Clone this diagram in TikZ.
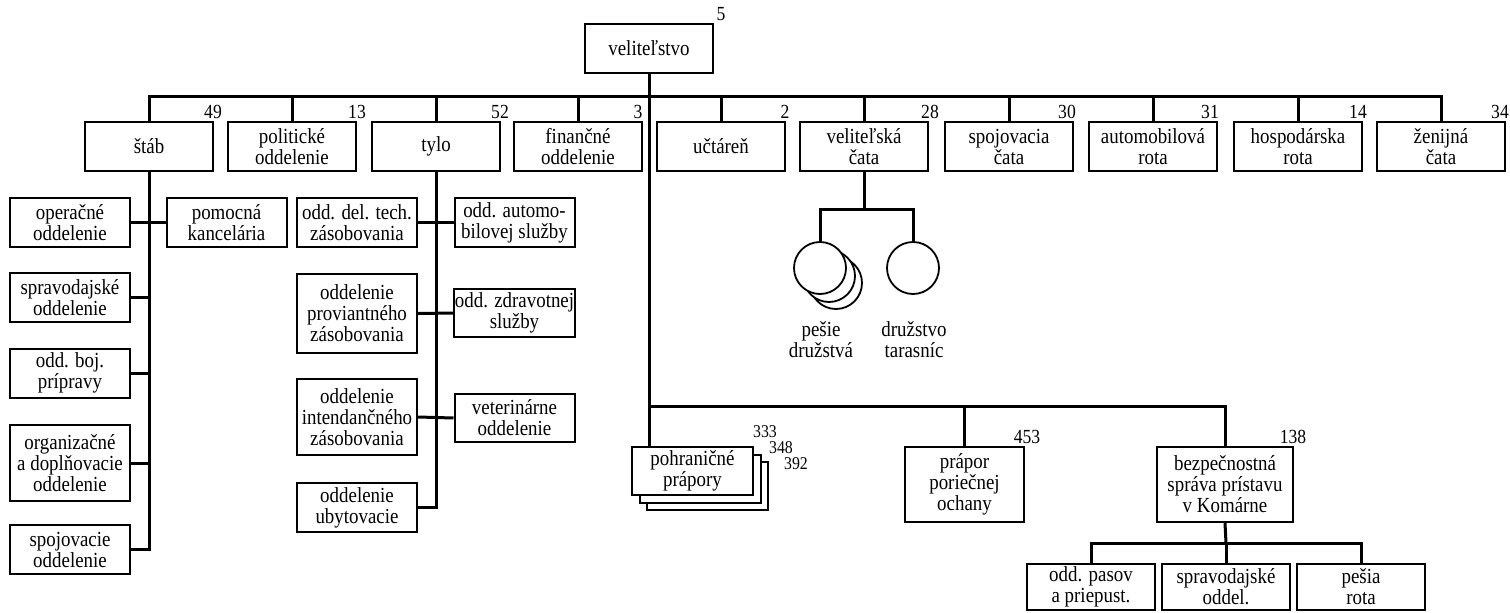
\documentclass[tikz,border=0pt]{standalone}
\usepackage{fontspec}
\setmainfont{Liberation Serif}[FakeStretch=0.88]
\newcommand{\dfont}{\fontsize{21.5}{21}\selectfont}
\newcommand{\nfont}{\fontsize{20}{21}\selectfont}
\newcommand{\sfontn}{\fontsize{18}{18}\selectfont}
\begin{document}
\begin{tikzpicture}[x=1pt,y=-1pt,
  box/.style={draw,line width=2pt,align=center,inner sep=1pt,minimum width=128pt,minimum height=49pt,fill=white,font=\dfont},
  sbox/.style={box,minimum width=120pt},
  conn/.style={line width=3pt},
  num/.style={anchor=base,inner sep=0pt,font=\nfont},
  snum/.style={num,font=\sfontn},
  circ/.style={draw,circle,line width=1.8pt,minimum size=52pt,inner sep=0pt,fill=white},
  lbl/.style={align=center,inner sep=0pt,font=\dfont}]
\useasboundingbox (0,0) rectangle (1510,613);
\fill[white] (0,0) rectangle (1510,613);

% top
\node[box] (vel) at (649,48.5) {veliteľstvo};
\node[box] (stab) at (149,146.5) {štáb};
\node[box] (pol) at (292,146.5) {politické\\oddelenie};
\node[box] (tylo) at (436,146.5) {tylo};
\node[box] (fin) at (578,146.5) {finančné\\oddelenie};
\node[box] (ucta) at (721,146.5) {učtáreň};
\node[box] (velc) at (864,146.5) {veliteľská\\čata};
\node[box] (spc) at (1009,146.5) {spojovacia\\čata};
\node[box] (auto) at (1153,146.5) {automobilová\\rota};
\node[box] (hosp) at (1298,146.5) {hospodárska\\rota};
\node[box] (zen) at (1441,146.5) {ženijná\\čata};

\node[num] (n5) at ([xshift=7pt,yshift=3pt]vel.north east) {5};
\node[num] (n49) at ([xshift=-1pt,yshift=3pt]stab.north east) {49};
\node[num] (n13) at ([xshift=0pt,yshift=3pt]pol.north east) {13};
\node[num] (n52) at ([xshift=-1pt,yshift=3pt]tylo.north east) {52};
\node[num] (n3) at ([xshift=-5pt,yshift=3pt]fin.north east) {3};
\node[num] (n2) at ([xshift=-1pt,yshift=3pt]ucta.north east) {2};
\node[num] (n28) at ([xshift=1pt,yshift=3pt]velc.north east) {28};
\node[num] (n30) at ([xshift=-7pt,yshift=3pt]spc.north east) {30};
\node[num] (n31) at ([xshift=-8pt,yshift=3pt]auto.north east) {31};
\node[num] (n14) at ([xshift=-5pt,yshift=3pt]hosp.north east) {14};
\node[num] (n34) at ([xshift=-6pt,yshift=3pt]zen.north east) {34};

\coordinate (tb) at (649,96.5);
\draw[conn] (stab.north) |- (tb) -| (zen.north);
\foreach \n in {pol,tylo,fin,ucta,velc,spc,auto,hosp}
  \draw[conn] (\n.north) -- (\n.north |- tb);

% stab children
\node[sbox] (oper) at (70,222.5) {operačné\\oddelenie};
\node[sbox] (pom) at (226.5,222.5) {pomocná\\kancelária};
\node[sbox] (sprav) at (70,297.5) {spravodajské\\oddelenie};
\node[sbox] (boj) at (70,373) {odd. boj.\\prípravy};
\node[sbox,minimum height=76pt] (org) at (70,463) {organizačné\\a doplňovacie\\oddelenie};
\node[sbox] (spoj) at (70,549.5) {spojovacie\\oddelenie};
\draw[conn] (stab.south) |- (spoj.east);
\draw[conn] (oper.east) -- (pom.west);
\foreach \n in {sprav,boj,org}
  \draw[conn] (\n.east) -- (\n.east -| stab.south);

% tylo children
\node[sbox] (tech) at (357,222.5) {odd. del. tech.\\zásobovania};
\node[sbox] (automo) at (514.5,222.5) {odd. automo-\\bilovej služby};
\node[sbox,minimum height=79pt] (prov) at (357,313.5) {oddelenie\\proviantného\\zásobovania};
\node[sbox,minimum height=48pt] (zdrav) at (514.5,313) {odd. zdravotnej\\služby};
\node[sbox,minimum height=76pt] (intend) at (357,417) {oddelenie\\intendančného\\zásobovania};
\node[sbox,minimum height=48pt] (vet) at (514.5,418) {veterinárne\\oddelenie};
\node[sbox] (ubyt) at (357,507.5) {oddelenie\\ubytovacie};
\draw[conn] (tylo.south) |- (ubyt.east);
\draw[conn] (tech.east) -- (automo.west);
\draw[conn] (prov.east) -- (zdrav.west);
\draw[conn] (intend.east) -- (vet.west);

% velitelska cata children
\node[circ] (c1c) at (836,283) {};
\node[circ] (c1b) at (829,276) {};
\node[circ] (c1) at (820,268) {};
\node[circ] (c2) at (913,268) {};
\coordinate (cb) at (864,209);
\draw[conn] (velc.south) -- (cb);
\draw[conn] (c1.north) |- (cb) -| (c2.north);
\node[lbl] (l1) at (821,340) {pešie\\družstvá};
\node[lbl] (l2) at (914,340) {družstvo\\tarasníc};

% bottom
\node[box,minimum width=121pt,minimum height=48pt] (pohr3) at (707.5,486) {};
\node[box,minimum width=121pt,minimum height=48pt] (pohr2) at (700.5,479) {};
\node[box,minimum width=121pt,minimum height=48pt] (pohr) at (692.5,471) {pohraničné\\prápory};
\node[snum] (n333) at (765,437) {333};
\node[snum] (n348) at (781,453) {348};
\node[snum] (n392) at (796,469) {392};

\node[box,minimum width=119pt,minimum height=75pt] (prap) at (964.5,484.5) {prápor\\poriečnej\\ochany};
\node[box,minimum width=136pt,minimum height=75pt] (bez) at (1225,484.5) {bezpečnostná\\správa prístavu\\v Komárne};
\node[num] (n453) at ([xshift=2pt,yshift=3pt]prap.north east) {453};
\node[num] (n138) at ([xshift=-1pt,yshift=3pt]bez.north east) {138};

\draw[conn] (vel.south) -- (vel.south |- pohr.north);
\coordinate (mb) at (649,406);
\draw[conn] (mb) -| (bez.north);
\draw[conn] (prap.north) -- (prap.north |- mb);

\node[box,minimum height=46pt] (pas) at (1091,587) {odd. pasov\\a priepust.};
\node[box,minimum height=46pt] (sprd) at (1226,587) {spravodajské\\oddel.};
\node[box,minimum height=46pt] (pes) at (1361,587) {pešia\\rota};
\coordinate (lb) at (1226,543);
\draw[conn] (bez.south) -- (lb);
\draw[conn] (pas.north) |- (lb) -| (pes.north);
\draw[conn] (sprd.north) -- (sprd.north |- lb);
\end{tikzpicture}
\end{document}
